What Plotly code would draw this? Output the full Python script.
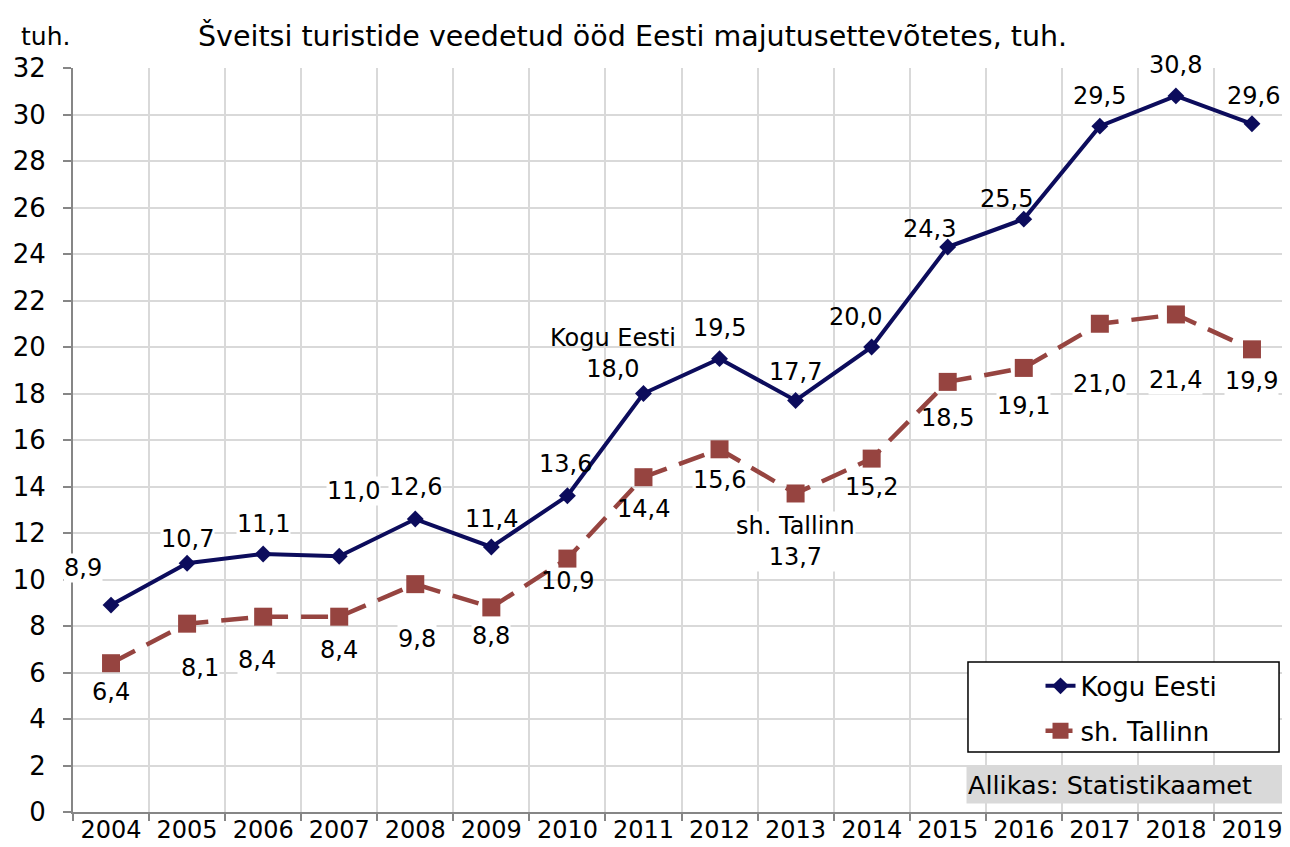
import plotly.graph_objects as go

years = [str(y) for y in range(2004, 2020)]
kogu_eesti = [8.9, 10.7, 11.1, 11.0, 12.6, 11.4, 13.6, 18.0, 19.5, 17.7, 20.0, 24.3, 25.5, 29.5, 30.8, 29.6]
tallinn = [6.4, 8.1, 8.4, 8.4, 9.8, 8.8, 10.9, 14.4, 15.6, 13.7, 15.2, 18.5, 19.1, 21.0, 21.4, 19.9]
y_ticks = list(range(0, 33, 2))

title = "Šveitsi turistide veedetud ööd Eesti majutusettevõtetes, tuh."
source = "Allikas: Statistikaamet"

# label offsets in px (dx, dy), dy positive = down; bg = white box behind label
kogu_offsets = [(-28, -37), (0, -24), (0, -30), (14, -65), (0, -32), (0, -28), (-2, -32), (-30, -40),
                (0, -31), (0, -28), (-16, -30), (-18, -18), (-17, -20), (0, -30), (0, -31), (2, -28)]
kogu_bg = [1, 1, 1, 1, 1, 0, 0, 0, 1, 0, 0, 0, 0, 1, 1, 1]
tall_offsets = [(0, 29), (13, 44), (-6, 43), (0, 33), (2, 55), (0, 29), (0, 22), (0, 32),
                (0, 31), (0, 48), (0, 28), (0, 36), (0, 38), (0, 60), (0, 66), (0, 32)]
tall_bg = [1, 1, 1, 1, 1, 1, 0, 0, 1, 1, 0, 0, 1, 1, 1, 1]

FONT = "DejaVu Sans"
NAVY = "#0c0c5c"
RED = "#964440"

fig = go.Figure()
fig.add_trace(go.Scatter(
    x=years, y=kogu_eesti, name="Kogu Eesti", mode="lines+markers", legendgroup="a",
    line=dict(color=NAVY, width=4),
    marker=dict(symbol="diamond", size=13, color=NAVY),
))
fig.add_trace(go.Scatter(
    x=years, y=tallinn, name="sh. Tallinn", mode="lines+markers", legendgroup="b",
    line=dict(color=RED, width=4.5, dash="27px,13px"),
    marker=dict(symbol="square", size=18, color=RED),
))

def fmt(v):
    return f"{v:.1f}".replace(".", ",")

def add_labels(values, offsets, bgs, extra_year, extra_text):
    for i, v in enumerate(values):
        dx, dy = offsets[i]
        txt = fmt(v)
        if years[i] == extra_year:
            txt = extra_text + "<br>" + txt
        fig.add_annotation(x=i, y=v, text=txt, showarrow=False, xshift=dx, yshift=-dy,
                           bgcolor="white" if bgs[i] else "rgba(0,0,0,0)", borderpad=0,
                           font=dict(size=24, color="black"))

add_labels(kogu_eesti, kogu_offsets, kogu_bg, "2011", "Kogu Eesti")
add_labels(tallinn, tall_offsets, tall_bg, "2013", "sh. Tallinn")

fig.add_annotation(x=0.460, xref="paper", xanchor="center", y=1.0, yref="paper", yanchor="middle",
                   yshift=32, text=title, showarrow=False, font=dict(size=28.5, color="black"))

fig.add_annotation(x=-0.023, xref="paper", xanchor="center", y=1.0, yref="paper", yanchor="middle",
                   yshift=32, text="tuh.", showarrow=False, font=dict(size=25, color="black"))

# legend frame
fig.add_shape(type="rect", xref="paper", yref="paper", x0=0.7354, x1=0.9910, y0=0.0806, y1=0.2016,
              fillcolor="white", line=dict(color="black", width=1.5), layer="above")

fig.add_annotation(x=0.7338, xref="paper", xanchor="left", y=0.036, yref="paper", yanchor="middle",
                   text=source, showarrow=False, bgcolor="#d9d9d9", width=314, height=34, align="left",
                   font=dict(size=25.5, color="black"))

fig.update_xaxes(
    type="category", range=[-0.5, 15.5], tickson="boundaries", automargin=False,
    showgrid=True, gridcolor="#d9d9d9", gridwidth=2,
    showline=True, linecolor="#868686", linewidth=2,
    ticks="outside", ticklen=7, tickcolor="#868686", tickwidth=2,
    tickfont=dict(size=24, color="black"), ticklabelstandoff=-5,
)
fig.update_yaxes(
    range=[0, 32], tickvals=y_ticks, automargin=False,
    showgrid=True, gridcolor="#d9d9d9", gridwidth=2,
    showline=True, linecolor="#868686", linewidth=2,
    ticks="outside", ticklen=8, tickcolor="#868686", tickwidth=2,
    tickfont=dict(size=26, color="black"), zeroline=False, ticklabelstandoff=12,
)

# page body has an 8px margin, so shrink the figure to keep the plot area in place
fig.update_layout(
    width=1282, height=839,
    margin=dict(l=65, r=0, t=60, b=35),
    plot_bgcolor="white", paper_bgcolor="white",
    font=dict(family=FONT, color="black"),
    showlegend=True,
    legend=dict(
        x=0.795, y=0.201, xanchor="left", yanchor="top",
        bgcolor="rgba(0,0,0,0)", borderwidth=0,
        font=dict(size=26, color="black"), tracegroupgap=8,
    ),
)

fig.write_html("out.html")
